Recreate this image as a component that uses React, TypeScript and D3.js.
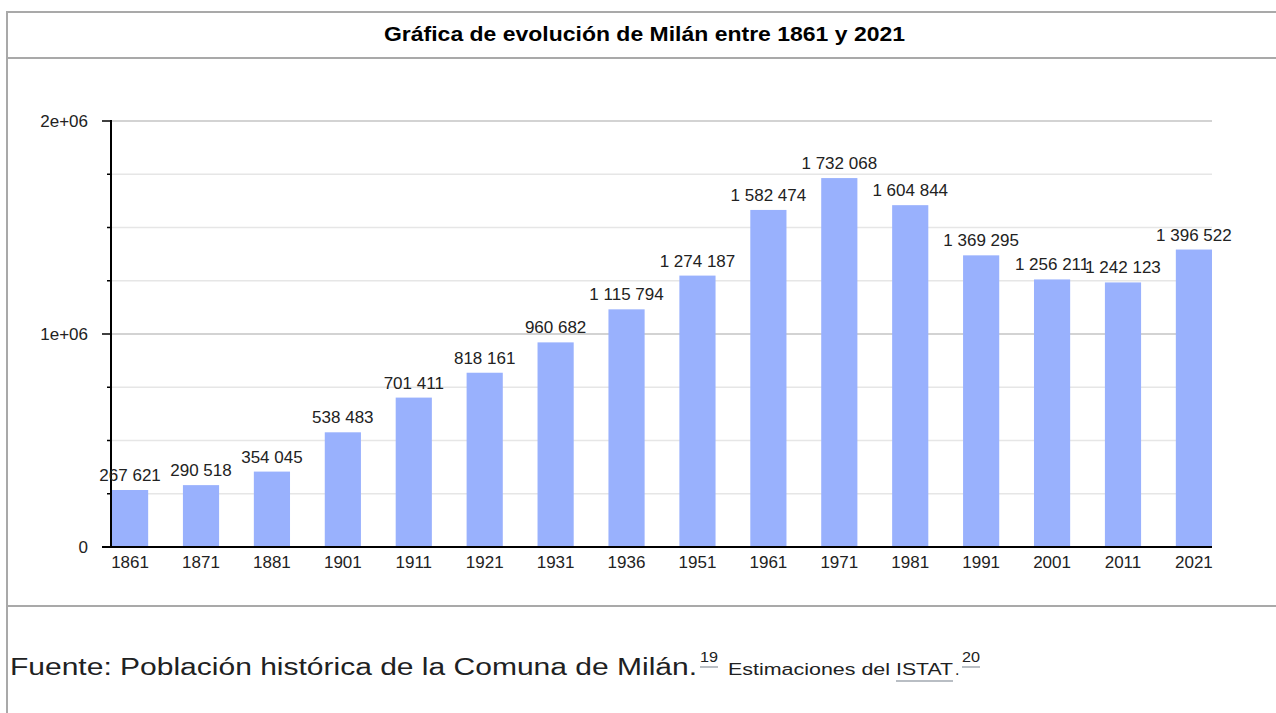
import * as d3 from 'd3'

const years = ['1861', '1871', '1881', '1901', '1911', '1921', '1931', '1936', '1951', '1961', '1971', '1981', '1991', '2001', '2011', '2021']
const population = [267621, 290518, 354045, 538483, 701411, 818161, 960682, 1115794, 1274187, 1582474, 1732068, 1604844, 1369295, 1256211, 1242123, 1396522]
const gridValues = [250000, 500000, 750000, 1000000, 1250000, 1500000, 1750000, 2000000]
const yTickValues = [0, 1000000, 2000000]
const yTickLabels = ['0', '1e+06', '2e+06']

const W = 1276
const H = 713
const font = '"Liberation Sans", Arial, sans-serif'
const fmt = (v: number) => d3.format(',')(v).replace(/,/g, ' ')
const linkLine = '#a2a9b1'

export default function App() {
  const x = d3.scaleBand<string>().domain(years).range([112, 1212]).paddingInner(0.49).paddingOuter(0)
  const y = d3.scaleLinear().domain([0, 2000000]).range([547, 121])
  const cx = (yr: string) => (x(yr) ?? 0) + x.bandwidth() / 2

  return (
    <svg width={W} height={H} style={{ position: 'fixed', left: 0, top: 0, background: '#fff' }}>
      <rect x={0} y={0} width={W} height={H} fill="#fff" />
      {/* table frame */}
      <line x1={7} x2={W} y1={12} y2={12} stroke="#a9a9a9" strokeWidth={2} />
      <line x1={7} x2={W} y1={58} y2={58} stroke="#a9a9a9" strokeWidth={2} />
      <line x1={7} x2={W} y1={606} y2={606} stroke="#a9a9a9" strokeWidth={2} />
      <line x1={7} x2={7} y1={11} y2={H} stroke="#a9a9a9" strokeWidth={2} />

      <text x={384} y={41} fontFamily={font} fontWeight="bold" fontSize={19.5} fill="#000"
        textLength={521} lengthAdjust="spacingAndGlyphs">
        Gráfica de evolución de Milán entre 1861 y 2021
      </text>

      {/* grid */}
      {gridValues.map((v) => (
        <line key={v} x1={111} x2={1212} y1={y(v)} y2={y(v)} stroke={v % 1000000 === 0 ? '#c4c4c4' : '#e6e6e6'} strokeWidth={1.5} />
      ))}

      {/* bars */}
      {population.map((v, i) => (
        <rect key={years[i]} x={x(years[i])} y={y(v)} width={x.bandwidth()} height={y(0) - y(v)} fill="#99b1fd" />
      ))}

      {/* axes */}
      <line x1={111} x2={111} y1={120} y2={548} stroke="#000" strokeWidth={2} />
      <line x1={102} x2={1212} y1={547} y2={547} stroke="#000" strokeWidth={2} />
      {gridValues.map((v) => (
        <line key={v} x1={v % 1000000 === 0 ? 102 : 107} x2={111} y1={y(v)} y2={y(v)} stroke="#000" strokeWidth={1.5} />
      ))}
      {yTickValues.map((v, i) => (
        <text key={v} x={88} y={y(v)} dy="0.35em" textAnchor="end" fontFamily={font} fontSize={17} fill="#222">
          {yTickLabels[i]}
        </text>
      ))}
      {years.map((yr) => (
        <text key={yr} x={cx(yr)} y={568} textAnchor="middle" fontFamily={font} fontSize={17} fill="#222">
          {yr}
        </text>
      ))}

      {/* value labels */}
      {population.map((v, i) => (
        <text key={years[i]} x={cx(years[i])} y={y(v) - 9} textAnchor="middle" fontFamily={font} fontSize={17} fill="#222">
          {fmt(v)}
        </text>
      ))}

      {/* source */}
      <g fontFamily={font} fill="#202122">
        <text x={10} y={675} fontSize={23} textLength={687} lengthAdjust="spacingAndGlyphs">
          Fuente: Población histórica de la Comuna de Milán.
        </text>
        <text x={700} y={662} fontSize={15} textLength={18} lengthAdjust="spacingAndGlyphs">19</text>
        <line x1={700} x2={718} y1={667} y2={667} stroke={linkLine} strokeWidth={1.5} />
        <text x={728} y={675} fontSize={16} textLength={162} lengthAdjust="spacingAndGlyphs">Estimaciones del</text>
        <text x={896} y={675} fontSize={16} textLength={57} lengthAdjust="spacingAndGlyphs">ISTAT</text>
        <line x1={896} x2={953} y1={681} y2={681} stroke={linkLine} strokeWidth={1.5} />
        <text x={955} y={675} fontSize={16}>.</text>
        <text x={962} y={662} fontSize={15} textLength={18} lengthAdjust="spacingAndGlyphs">20</text>
        <line x1={962} x2={980} y1={667} y2={667} stroke={linkLine} strokeWidth={1.5} />
      </g>
    </svg>
  )
}
